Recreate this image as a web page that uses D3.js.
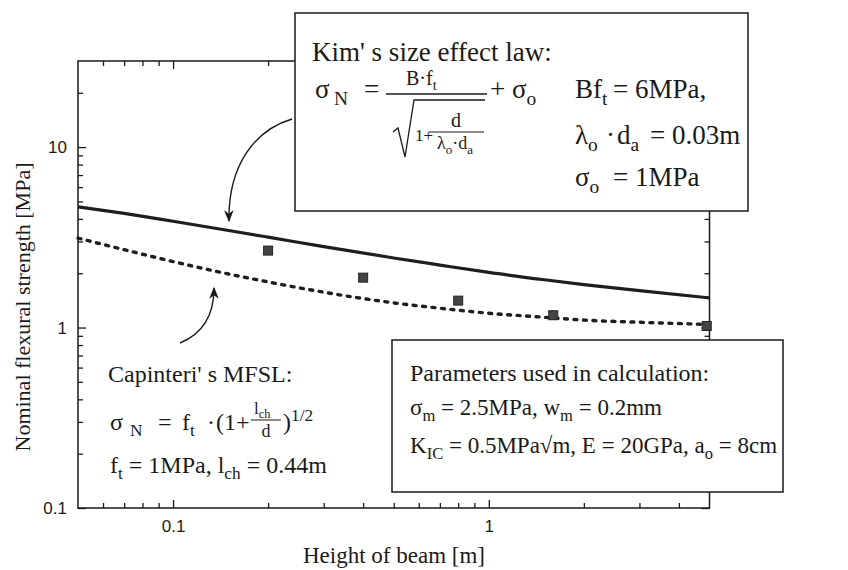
<!DOCTYPE html>
<html>
<head>
<meta charset="utf-8">
<script src="https://cdn.jsdelivr.net/npm/d3@7"></script>
<style>
body { margin: 0; background: #fff; }
svg { display: block; }
.serif { font-family: "Liberation Serif", "Times New Roman", serif; fill: #1a1a1a; }
.tick text { font-family: "Liberation Sans", Arial, sans-serif; font-size: 17px; fill: #1a1a1a; }
</style>
</head>
<body>
<svg width="848" height="570"></svg>
<script>
// measured beams
var heights = [0.2, 0.4, 0.8, 1.6, 4.9];
var strengths = [2.67, 1.89, 1.41, 1.17, 1.02];

// model curves, read at these beam heights
var curveD = [0.05, 0.07, 0.1, 0.15, 0.2, 0.3, 0.5, 0.7, 1, 1.5, 2, 3, 5];
var kimLaw = [4.67, 4.29, 3.88, 3.45, 3.17, 2.81, 2.43, 2.22, 2.02, 1.84, 1.73, 1.60, 1.46];
var mfsl = [3.13, 2.70, 2.32, 1.98, 1.79, 1.57, 1.37, 1.28, 1.20, 1.14, 1.10, 1.07, 1.04];

var xMajor = [0.1, 1];
var xMinor = [0.06, 0.07, 0.08, 0.09, 0.2, 0.3, 0.4, 0.5, 0.6, 0.7, 0.8, 0.9, 2, 3, 4];
var yMajor = [0.1, 1, 10];
var yMinor = [0.2, 0.3, 0.4, 0.5, 0.6, 0.7, 0.8, 0.9, 2, 3, 4, 5, 6, 7, 8, 9, 20];

var mLeft = 78, mRight = 709.5, mTop = 61, mBottom = 508;

var svg = d3.select('svg');

var x = d3.scaleLog().domain([0.05, 5]).range([mLeft, mRight]);
var y = d3.scaleLog().domain([0.1, 30]).range([mBottom, mTop]);

var fmt = function(d){ return d; };

// axes, ticks pointing inwards
function addAxis(gen, tx, ty){
	var g = svg.append('g').attr('transform', 'translate(' + tx + ',' + ty + ')').call(gen);
	g.select('.domain').remove();
	g.selectAll('line').attr('stroke', '#1a1a1a').attr('stroke-width', 1.3);
	return g;
}
addAxis(d3.axisBottom(x).tickValues(xMajor).tickSize(-8).tickPadding(12).tickFormat(fmt), 0, mBottom);
addAxis(d3.axisBottom(x).tickValues(xMinor).tickSize(-5).tickFormat(''), 0, mBottom);
addAxis(d3.axisTop(x).tickValues(xMajor).tickSize(-8).tickFormat(''), 0, mTop);
addAxis(d3.axisTop(x).tickValues(xMinor).tickSize(-5).tickFormat(''), 0, mTop);
addAxis(d3.axisLeft(y).tickValues(yMajor).tickSize(-8).tickPadding(11).tickFormat(fmt), mLeft, 0);
addAxis(d3.axisLeft(y).tickValues(yMinor).tickSize(-5).tickFormat(''), mLeft, 0);
addAxis(d3.axisRight(y).tickValues(yMajor).tickSize(-8).tickFormat(''), mRight, 0);
addAxis(d3.axisRight(y).tickValues(yMinor).tickSize(-5).tickFormat(''), mRight, 0);

svg.append('rect')
	.attr('x', mLeft).attr('y', mTop)
	.attr('width', mRight - mLeft).attr('height', mBottom - mTop)
	.attr('fill', 'none').attr('stroke', '#1a1a1a').attr('stroke-width', 1.5);

var line = d3.line()
	.x(function(d){ return x(d[0]); })
	.y(function(d){ return y(d[1]); })
	.curve(d3.curveMonotoneX);

svg.append('path')
	.attr('d', line(d3.zip(curveD, kimLaw)))
	.attr('fill', 'none').attr('stroke', '#1e1e1e').attr('stroke-width', 3.2);

svg.append('path')
	.attr('d', line(d3.zip(curveD, mfsl)))
	.attr('fill', 'none').attr('stroke', '#1e1e1e').attr('stroke-width', 3.4)
	.attr('stroke-linecap', 'round')
	.attr('stroke-dasharray', '3,6.5');

svg.selectAll('.pt')
	.data(d3.zip(heights, strengths))
	.enter().append('rect')
	.attr('class', 'pt')
	.attr('x', function(d){ return x(d[0]) - 4.5; })
	.attr('y', function(d){ return y(d[1]) - 4.5; })
	.attr('width', 9).attr('height', 9)
	.attr('fill', '#444').attr('stroke', '#222').attr('stroke-width', 1);

// axis titles
svg.append('text').attr('class', 'serif')
	.attr('x', 394).attr('y', 563)
	.attr('text-anchor', 'middle').attr('font-size', 23)
	.text('Height of beam [m]');

svg.append('text').attr('class', 'serif')
	.attr('transform', 'translate(30,307) rotate(-90)')
	.attr('text-anchor', 'middle').attr('font-size', 22)
	.text('Nominal flexural strength [MPa]');

// arrows
var defs = svg.append('defs');
defs.append('marker')
	.attr('id', 'head').attr('viewBox', '0 0 10 10')
	.attr('refX', 9).attr('refY', 5)
	.attr('markerWidth', 12).attr('markerHeight', 12)
	.attr('markerUnits', 'userSpaceOnUse')
	.attr('orient', 'auto')
	.append('path').attr('d', 'M0,1 L10,5 L0,9 L3,5 Z').attr('fill', '#1a1a1a');

svg.append('path')
	.attr('d', 'M292,119 C255,130 228,165 229,221')
	.attr('fill', 'none').attr('stroke', '#1a1a1a').attr('stroke-width', 1.4)
	.attr('marker-end', 'url(#head)');

svg.append('path')
	.attr('d', 'M180,343 C202,334 214,315 214,288')
	.attr('fill', 'none').attr('stroke', '#1a1a1a').attr('stroke-width', 1.4)
	.attr('marker-end', 'url(#head)');

// text with sub/superscripts: parts = [text, 'n'|'s'|'u', optional x]
function rich(xp, yp, size, parts, anchor){
	var t = svg.append('text').attr('class', 'serif')
		.attr('x', xp).attr('y', yp).attr('font-size', size)
		.attr('text-anchor', anchor || 'start');
	var shift = 0;
	parts.forEach(function(p){
		var target = p[1] === 's' ? Math.round(size * 0.26) : (p[1] === 'u' ? -Math.round(size * 0.38) : 0);
		var ts = t.append('tspan')
			.attr('dy', target - shift)
			.attr('font-size', p[1] === 'n' ? size : size * 0.72)
			.text(p[0]);
		if (p[2] !== undefined) ts.attr('x', p[2]);
		shift = target;
	});
	return t;
}
function rule(x1, x2, yy, w){
	svg.append('line').attr('x1', x1).attr('x2', x2).attr('y1', yy).attr('y2', yy)
		.attr('stroke', '#1a1a1a').attr('stroke-width', w);
}

// Kim box
svg.append('rect').attr('x', 295).attr('y', 13).attr('width', 453).attr('height', 198)
	.attr('fill', '#fff').attr('stroke', '#1a1a1a').attr('stroke-width', 1.5);

rich(312, 61, 27, [["Kim' s size effect law:", 'n']]);
rich(315, 98, 27, [['σ', 'n'], ['N', 's', 334], ['=', 'n', 364]]);
rich(406, 85, 20, [['B·f', 'n'], ['t', 's']]);
rule(386, 487, 94, 1.4);
svg.append('path').attr('d', 'M393,132 L398,128 L405,157 L414,100 L485,100')
	.attr('fill', 'none').attr('stroke', '#1a1a1a').attr('stroke-width', 1.3);
rich(415, 141, 17, [['1+', 'n']]);
rich(456, 127, 20, [['d', 'n']], 'middle');
rule(429, 484, 132, 1);
rich(455, 149, 18, [['λ', 'n'], ['o', 's'], ['·d', 'n'], ['a', 's']], 'middle');
rich(490, 98, 27, [['+ σ', 'n'], ['o', 's']]);
rich(575, 98, 27, [['Bf', 'n'], ['t', 's'], ['= 6MPa,', 'n', 613]]);
rich(575, 144, 27, [['λ', 'n'], ['o', 's'], ['·', 'n', 606], ['d', 'n', 617], ['a', 's'], ['= 0.03m', 'n', 650]]);
rich(575, 186, 27, [['σ', 'n'], ['o', 's'], ['= 1MPa', 'n', 613]]);

// Capinteri text
rich(108, 382, 24, [["Capinteri' s MFSL:", 'n']]);
rich(110, 430, 24, [['σ', 'n'], ['N', 's', 130], ['=', 'n', 158], ['f', 'n', 182], ['t', 's'], ['·', 'n', 207], ['(1+', 'n', 216]]);
rich(254, 414, 17, [['l', 'n'], ['ch', 's']]);
rule(251, 281, 420, 1);
rich(266, 437, 18, [['d', 'n']], 'middle');
rich(283, 430, 24, [[')', 'n'], ['1/2', 'u']]);
rich(110, 473, 24, [['f', 'n'], ['t', 's'], [' = 1MPa, l', 'n'], ['ch', 's'], [' = 0.44m', 'n']]);

// parameters box
svg.append('rect').attr('x', 392).attr('y', 340).attr('width', 391).attr('height', 152)
	.attr('fill', '#fff').attr('stroke', '#1a1a1a').attr('stroke-width', 1.5);
rich(410, 381, 24, [['Parameters used in calculation:', 'n']]);
rich(410, 415, 23, [['σ', 'n'], ['m', 's'], [' = 2.5MPa, w', 'n'], ['m', 's'], [' = 0.2mm', 'n']]);
rich(410, 453, 23, [['K', 'n'], ['IC', 's'], [' = 0.5MPa√', 'n'], ['m', 'n'], [', E = 20GPa, a', 'n'], ['o', 's'], [' = 8cm', 'n']]);
</script>
</body>
</html>
